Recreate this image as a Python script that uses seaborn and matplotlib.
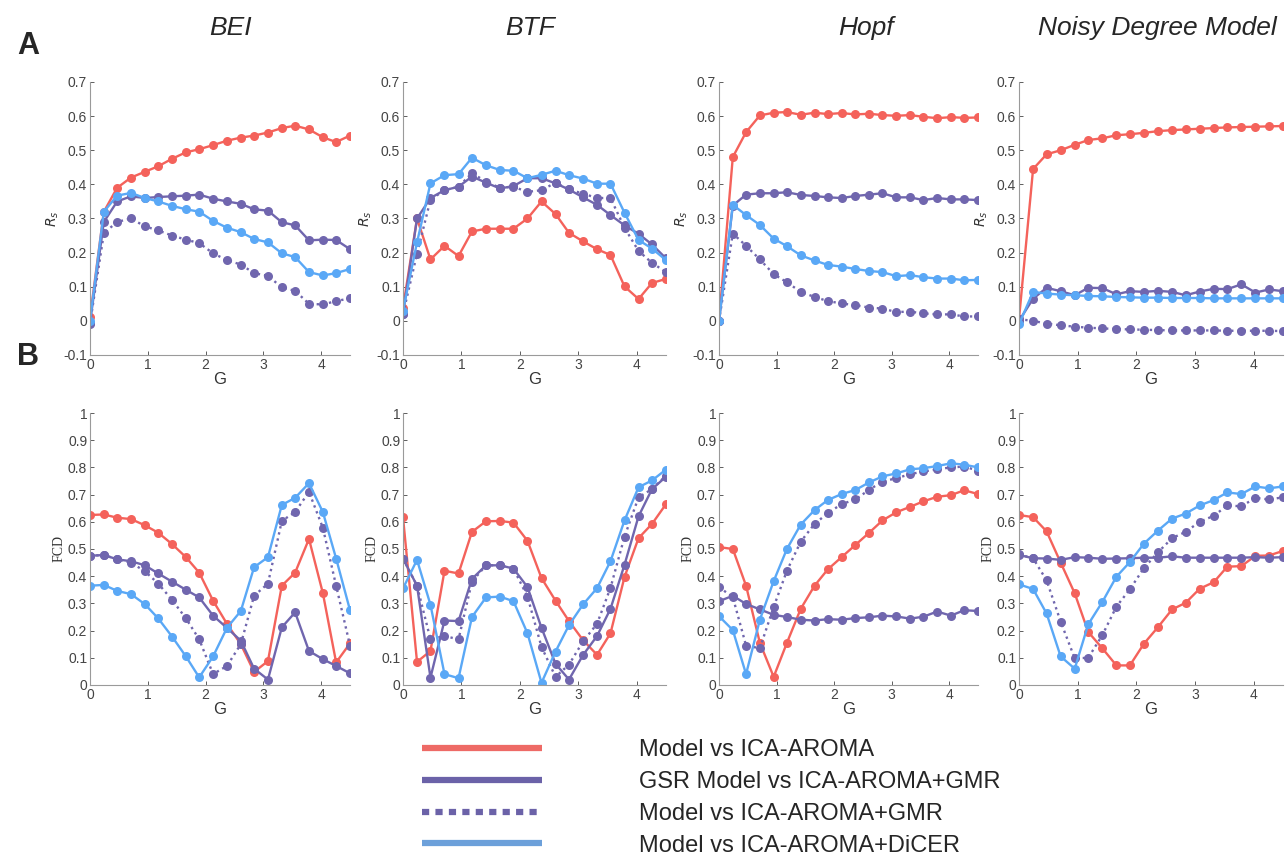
import numpy as np
import pandas as pd
import matplotlib
matplotlib.use("Agg")
import matplotlib.pyplot as plt
import seaborn as sns
from matplotlib.lines import Line2D
from matplotlib.ticker import FuncFormatter

# coupling values G (20 steps from 0 to 4.5)
g_values = [0.0, 0.24, 0.47, 0.71, 0.95, 1.18, 1.42, 1.66, 1.89, 2.13,
            2.37, 2.61, 2.84, 3.08, 3.32, 3.55, 3.79, 4.03, 4.26, 4.5]

models = ["BEI", "BTF", "Hopf", "Noisy Degree Model"]
series_labels = ["Model vs ICA-AROMA", "GSR Model vs ICA-AROMA+GMR",
                 "Model vs ICA-AROMA+GMR", "Model vs ICA-AROMA+DiCER"]

# --- A: Rs ---
bei_rs_aroma = [0.01, 0.32, 0.39, 0.42, 0.437, 0.453, 0.475, 0.494, 0.503, 0.515, 0.528, 0.537, 0.543, 0.552, 0.565, 0.572, 0.561, 0.538, 0.524, 0.543]
bei_rs_gsr = [-0.005, 0.29, 0.35, 0.365, 0.36, 0.363, 0.365, 0.367, 0.37, 0.358, 0.35, 0.343, 0.327, 0.323, 0.289, 0.28, 0.236, 0.238, 0.237, 0.21]
bei_rs_gmr = [-0.008, 0.257, 0.29, 0.3, 0.277, 0.265, 0.25, 0.238, 0.228, 0.198, 0.178, 0.165, 0.14, 0.132, 0.098, 0.088, 0.05, 0.048, 0.058, 0.066]
bei_rs_dicer = [0.0, 0.32, 0.367, 0.375, 0.36, 0.35, 0.337, 0.327, 0.32, 0.293, 0.273, 0.26, 0.24, 0.23, 0.198, 0.187, 0.143, 0.133, 0.14, 0.152]

btf_rs_aroma = [0.038, 0.30, 0.18, 0.22, 0.19, 0.262, 0.27, 0.27, 0.27, 0.30, 0.35, 0.313, 0.258, 0.233, 0.21, 0.193, 0.101, 0.064, 0.111, 0.123]
btf_rs_gsr = [0.02, 0.30, 0.36, 0.383, 0.393, 0.423, 0.405, 0.388, 0.395, 0.418, 0.418, 0.403, 0.385, 0.362, 0.34, 0.31, 0.28, 0.255, 0.224, 0.183]
btf_rs_gmr = [0.02, 0.197, 0.355, 0.383, 0.393, 0.433, 0.408, 0.39, 0.393, 0.378, 0.383, 0.405, 0.385, 0.373, 0.36, 0.36, 0.273, 0.205, 0.17, 0.143]
btf_rs_dicer = [0.03, 0.23, 0.403, 0.427, 0.43, 0.478, 0.456, 0.442, 0.44, 0.418, 0.428, 0.44, 0.427, 0.417, 0.402, 0.402, 0.317, 0.237, 0.212, 0.178]

hopf_rs_aroma = [0.0, 0.48, 0.553, 0.602, 0.61, 0.612, 0.604, 0.61, 0.606, 0.609, 0.605, 0.607, 0.603, 0.601, 0.603, 0.598, 0.594, 0.597, 0.595, 0.596]
hopf_rs_gsr = [0.0, 0.338, 0.37, 0.374, 0.374, 0.377, 0.369, 0.366, 0.362, 0.36, 0.366, 0.37, 0.374, 0.362, 0.362, 0.354, 0.36, 0.356, 0.356, 0.354]
hopf_rs_gmr = [0.0, 0.256, 0.22, 0.18, 0.137, 0.113, 0.085, 0.07, 0.058, 0.051, 0.046, 0.039, 0.036, 0.026, 0.027, 0.022, 0.019, 0.019, 0.013, 0.013]
hopf_rs_dicer = [0.0, 0.34, 0.31, 0.281, 0.241, 0.219, 0.192, 0.177, 0.164, 0.159, 0.152, 0.146, 0.143, 0.131, 0.134, 0.128, 0.124, 0.124, 0.119, 0.12]

ndm_rs_aroma = [0.005, 0.445, 0.488, 0.5, 0.516, 0.53, 0.535, 0.544, 0.547, 0.551, 0.556, 0.559, 0.561, 0.563, 0.565, 0.567, 0.568, 0.569, 0.57, 0.571]
ndm_rs_gsr = [0.0, 0.065, 0.097, 0.087, 0.075, 0.097, 0.096, 0.078, 0.087, 0.085, 0.088, 0.085, 0.075, 0.086, 0.094, 0.093, 0.107, 0.083, 0.092, 0.087]
ndm_rs_gmr = [0.005, 0.0, -0.008, -0.013, -0.017, -0.02, -0.022, -0.024, -0.025, -0.026, -0.027, -0.028, -0.028, -0.028, -0.028, -0.029, -0.029, -0.029, -0.029, -0.03]
ndm_rs_dicer = [-0.01, 0.085, 0.08, 0.077, 0.075, 0.073, 0.072, 0.07, 0.069, 0.068, 0.068, 0.067, 0.067, 0.067, 0.066, 0.066, 0.066, 0.066, 0.066, 0.066]

# --- B: FCD ---
bei_fcd_aroma = [0.625, 0.627, 0.615, 0.61, 0.587, 0.56, 0.518, 0.47, 0.413, 0.31, 0.225, 0.15, 0.048, 0.088, 0.365, 0.413, 0.537, 0.338, 0.083, 0.153]
bei_fcd_gsr = [0.475, 0.478, 0.462, 0.455, 0.44, 0.41, 0.38, 0.35, 0.322, 0.255, 0.21, 0.163, 0.06, 0.02, 0.212, 0.267, 0.125, 0.095, 0.07, 0.043]
bei_fcd_gmr = [0.475, 0.478, 0.462, 0.45, 0.418, 0.373, 0.313, 0.245, 0.168, 0.04, 0.07, 0.15, 0.328, 0.373, 0.603, 0.636, 0.71, 0.578, 0.365, 0.145]
bei_fcd_dicer = [0.365, 0.368, 0.346, 0.334, 0.297, 0.245, 0.178, 0.105, 0.028, 0.105, 0.21, 0.272, 0.433, 0.47, 0.662, 0.688, 0.742, 0.636, 0.465, 0.275]

btf_fcd_aroma = [0.617, 0.085, 0.125, 0.42, 0.41, 0.563, 0.602, 0.603, 0.597, 0.53, 0.393, 0.31, 0.235, 0.165, 0.111, 0.19, 0.397, 0.54, 0.592, 0.665]
btf_fcd_gsr = [0.465, 0.365, 0.027, 0.237, 0.235, 0.39, 0.44, 0.44, 0.428, 0.36, 0.21, 0.078, 0.02, 0.11, 0.18, 0.28, 0.442, 0.62, 0.72, 0.766]
btf_fcd_gmr = [0.465, 0.365, 0.168, 0.18, 0.168, 0.38, 0.44, 0.44, 0.428, 0.325, 0.14, 0.03, 0.075, 0.16, 0.225, 0.357, 0.545, 0.69, 0.72, 0.77]
btf_fcd_dicer = [0.355, 0.46, 0.295, 0.04, 0.025, 0.25, 0.322, 0.325, 0.308, 0.19, 0.008, 0.123, 0.22, 0.296, 0.356, 0.455, 0.605, 0.727, 0.752, 0.792]

hopf_fcd_aroma = [0.507, 0.5, 0.365, 0.155, 0.03, 0.155, 0.28, 0.365, 0.425, 0.47, 0.515, 0.56, 0.605, 0.635, 0.655, 0.675, 0.692, 0.698, 0.716, 0.702]
hopf_fcd_gsr = [0.308, 0.328, 0.298, 0.278, 0.258, 0.25, 0.24, 0.237, 0.242, 0.24, 0.246, 0.249, 0.255, 0.252, 0.244, 0.251, 0.27, 0.255, 0.275, 0.272]
hopf_fcd_gmr = [0.36, 0.323, 0.145, 0.135, 0.287, 0.42, 0.527, 0.592, 0.632, 0.665, 0.682, 0.718, 0.748, 0.76, 0.775, 0.785, 0.793, 0.8, 0.803, 0.788]
hopf_fcd_dicer = [0.253, 0.202, 0.04, 0.24, 0.382, 0.5, 0.59, 0.643, 0.68, 0.702, 0.717, 0.745, 0.767, 0.778, 0.793, 0.797, 0.805, 0.815, 0.81, 0.8]

ndm_fcd_aroma = [0.625, 0.617, 0.565, 0.45, 0.337, 0.195, 0.135, 0.072, 0.072, 0.152, 0.213, 0.278, 0.302, 0.354, 0.378, 0.435, 0.437, 0.475, 0.476, 0.493]
ndm_fcd_gsr = [0.478, 0.466, 0.465, 0.46, 0.47, 0.468, 0.464, 0.465, 0.466, 0.468, 0.468, 0.473, 0.468, 0.468, 0.468, 0.468, 0.468, 0.47, 0.468, 0.47]
ndm_fcd_gmr = [0.48, 0.466, 0.385, 0.233, 0.098, 0.1, 0.183, 0.288, 0.352, 0.43, 0.488, 0.54, 0.563, 0.6, 0.622, 0.66, 0.657, 0.688, 0.682, 0.69]
ndm_fcd_dicer = [0.37, 0.353, 0.263, 0.105, 0.06, 0.223, 0.305, 0.398, 0.452, 0.52, 0.568, 0.612, 0.63, 0.66, 0.68, 0.708, 0.702, 0.73, 0.723, 0.73]

rs_data = [
    [bei_rs_aroma, bei_rs_gsr, bei_rs_gmr, bei_rs_dicer],
    [btf_rs_aroma, btf_rs_gsr, btf_rs_gmr, btf_rs_dicer],
    [hopf_rs_aroma, hopf_rs_gsr, hopf_rs_gmr, hopf_rs_dicer],
    [ndm_rs_aroma, ndm_rs_gsr, ndm_rs_gmr, ndm_rs_dicer],
]
fcd_data = [
    [bei_fcd_aroma, bei_fcd_gsr, bei_fcd_gmr, bei_fcd_dicer],
    [btf_fcd_aroma, btf_fcd_gsr, btf_fcd_gmr, btf_fcd_dicer],
    [hopf_fcd_aroma, hopf_fcd_gsr, hopf_fcd_gmr, hopf_fcd_dicer],
    [ndm_fcd_aroma, ndm_fcd_gsr, ndm_fcd_gmr, ndm_fcd_dicer],
]

colors = ["#F4625B", "#7066AE", "#7066AE", "#5AA8F6"]
styles = ["-", "-", ":", "-"]

sns.set_style("ticks")
plt.rcParams["font.family"] = ["Liberation Sans", "DejaVu Sans"]

fig = plt.figure(figsize=(12.85, 8.61), dpi=100)

W, H = 1285, 861
col_px = [(90, 260), (403, 263), (719, 259), (1019, 264)]
row_px = [(82, 355), (413, 685)]

fmt = FuncFormatter(lambda v, p: "%g" % round(v, 2))
tick_col = "#444444"
spine_col = "#9a9a9a"


def draw_panel(ax, series, ylim, ylabel):
    for k in range(4):
        df = pd.DataFrame({"G": g_values, "val": series[k]})
        sns.lineplot(data=df, x="G", y="val", ax=ax, color=colors[k],
                     linestyle=styles[k], lw=1.7, marker="o", markersize=6.5,
                     markeredgewidth=0, estimator=None, sort=False)
    ax.set_xlim(0, 4.5)
    ax.set_ylim(*ylim)
    ax.set_xticks([0, 1, 2, 3, 4])
    ax.yaxis.set_major_formatter(fmt)
    ax.tick_params(labelsize=10, colors=tick_col, direction="in", length=3,
                   width=0.6, pad=2)
    for s in ["left", "bottom"]:
        ax.spines[s].set_color(spine_col)
        ax.spines[s].set_linewidth(0.8)
    sns.despine(ax=ax)
    ax.set_xlabel("G", fontsize=12, color="#333333", labelpad=0)
    ax.set_ylabel(ylabel, fontsize=10, color="#333333", family="Liberation Serif",
                  labelpad=2)


for j in range(4):
    left, width = col_px[j]
    # row A
    top, bottom = row_px[0]
    ax = fig.add_axes([left / W, 1 - bottom / H, width / W, (bottom - top) / H])
    draw_panel(ax, rs_data[j], (-0.1, 0.7), "$R_s$")
    ax.set_yticks(np.round(np.arange(-0.1, 0.71, 0.1), 1))
    # row B
    top, bottom = row_px[1]
    ax = fig.add_axes([left / W, 1 - bottom / H, width / W, (bottom - top) / H])
    draw_panel(ax, fcd_data[j], (0, 1), "FCD")
    ax.set_yticks(np.round(np.arange(0, 1.01, 0.1), 1))

# column titles
title_x = [230, 530, 866, 1157]
for name, tx in zip(models, title_x):
    fig.text(tx / W, 1 - 28 / H, name, ha="center", va="center", fontsize=19,
             style="italic", family=["Liberation Sans Narrow", "Liberation Sans"])

fig.text(28 / W, 1 - 46 / H, "A", ha="center", va="center", fontsize=22,
         fontweight="bold")
fig.text(28 / W, 1 - 357 / H, "B", ha="center", va="center", fontsize=22,
         fontweight="bold")

# legend
handles = []
for k, c in enumerate(["#EE6A66", "#6B62A8", "#6B62A8", "#6CA0DA"]):
    h = Line2D([], [], color=c, lw=4.5, solid_capstyle="butt",
               dash_capstyle="butt")
    if styles[k] == ":":
        h.set_dashes((1.15, 1.0))
    handles.append(h)
fig.legend(handles, series_labels, loc="upper left",
           bbox_to_anchor=(422 / W, 1 - 739 / H), frameon=False, fontsize=17,
           handlelength=5.1, handletextpad=4.1, labelspacing=0.42,
           borderpad=0, borderaxespad=0)

fig.savefig("out.png", dpi=100)
